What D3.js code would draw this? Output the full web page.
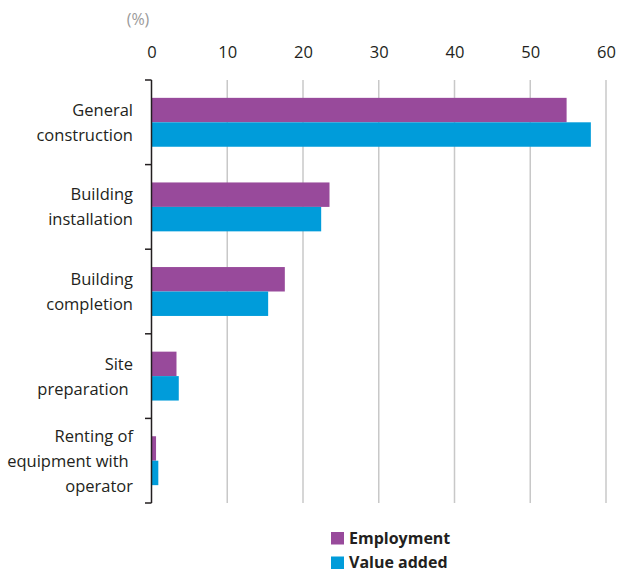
<!DOCTYPE html>
<html><head><meta charset="utf-8">
<script src="https://cdn.jsdelivr.net/npm/d3@7"></script>
<style>body{margin:0;background:#fff}svg{display:block}</style>
</head><body>
<svg id="c" width="618" height="569"></svg>
<script>
const categories = [["General","construction"],["Building","installation"],["Building","completion"],["Site","preparation\u00a0"],["Renting of","equipment with\u00a0","operator"]];
const catKeys = ["General construction","Building installation","Building completion","Site preparation","Renting of equipment with operator"];
const series = ["Employment","Value added"];
const employment = [54.8, 23.5, 17.6, 3.3, 0.6];
const valueAdded = [58.0, 22.4, 15.4, 3.6, 0.9];
const xTicks = [0,10,20,30,40,50,60];
const colors = ["#984a9b","#009cda"];

const font = "'Open Sans', sans-serif";
const svg = d3.select("#c");
const x = d3.scaleLinear().domain([0,60]).range([151.5,606]);
const y = d3.scaleBand().domain(catKeys).range([80,503]).padding(0);
const ys = d3.scaleBand().domain(series).range([0,y.bandwidth()]).paddingInner(0).paddingOuter(0.73);

// gridlines
svg.append("g").selectAll("line").data(xTicks.slice(1)).join("line")
  .attr("x1",d=>x(d)).attr("x2",d=>x(d)).attr("y1",80).attr("y2",503)
  .attr("stroke","#c8c8c8").attr("stroke-width",1.5);

// top axis labels
const xa = svg.append("g").attr("transform","translate(0,57.5)")
  .call(d3.axisTop(x).tickValues(xTicks).tickSize(0).tickPadding(0).tickFormat(d3.format("d")));
xa.select(".domain").remove();
xa.selectAll("text").attr("font-family",font).attr("font-size",16.5).attr("fill","#231f20");

svg.append("text").attr("x",138).attr("y",25).attr("text-anchor","middle")
  .attr("font-family",font).attr("font-size",16).attr("fill","#9a9a9a").text("(%)");

// bars
const data = catKeys.map((c,i)=>({c, vals:[employment[i], valueAdded[i]]}));
const g = svg.append("g");
data.forEach(d=>{
  series.forEach((s,j)=>{
    g.append("rect").attr("x",x(0)).attr("y",y(d.c)+ys(s))
      .attr("width",x(d.vals[j])-x(0)).attr("height",ys.bandwidth()).attr("fill",colors[j]);
  });
});

// left axis line and ticks at band boundaries
const bounds = catKeys.map(c=>y(c)).concat([y(catKeys[catKeys.length-1])+y.bandwidth()]);
svg.append("line").attr("x1",x(0)).attr("x2",x(0)).attr("y1",bounds[0]).attr("y2",bounds[bounds.length-1])
  .attr("stroke","#231f20").attr("stroke-width",1.5);
svg.append("g").selectAll("line").data(bounds).join("line")
  .attr("x1",x(0)-6.5).attr("x2",x(0)).attr("y1",d=>d).attr("y2",d=>d)
  .attr("stroke","#231f20").attr("stroke-width",1.5);

// category labels
const lh = 25;
catKeys.forEach((c,i)=>{
  const lines = categories[i];
  const cy = y(c)+y.bandwidth()/2;
  const start = cy + 6 - (lines.length-1)*lh/2;
  const t = svg.append("text").attr("text-anchor","end").attr("font-family",font)
    .attr("font-size",16.5).attr("fill","#231f20");
  lines.forEach((l,k)=>t.append("tspan").attr("x",133).attr("y",start+k*lh).text(l));
});

// legend
const lg = svg.append("g");
series.forEach((s,j)=>{
  lg.append("rect").attr("x",331).attr("y",532+j*24.5).attr("width",13).attr("height",12.5).attr("fill",colors[j]);
  lg.append("text").attr("x",349).attr("y",544+j*23.5).attr("font-family",font).attr("font-weight","bold")
    .attr("font-size",16).attr("fill","#231f20").text(s);
});
</script>
</body></html>
